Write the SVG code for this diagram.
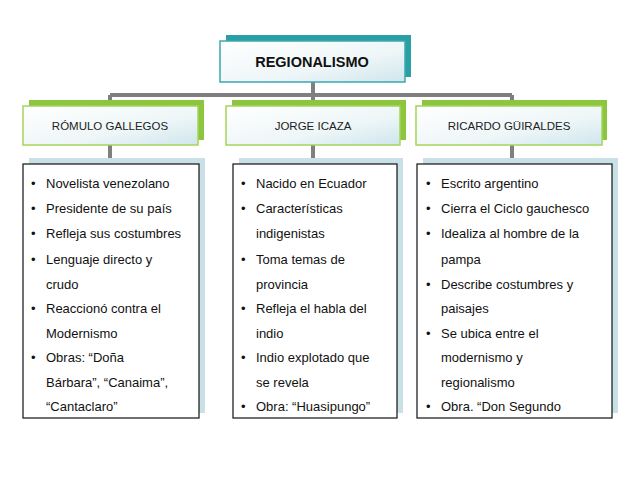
<svg xmlns="http://www.w3.org/2000/svg" width="638" height="479" viewBox="0 0 638 479">
<defs>
<linearGradient id="g" x1="0" y1="0" x2="1" y2="1"><stop offset="0" stop-color="#ffffff"/><stop offset="0.6" stop-color="#eef6f8"/><stop offset="1" stop-color="#cfe6ec"/></linearGradient>
</defs>
<style>
.t{font-family:"Liberation Sans",Arial,sans-serif;font-size:13px;fill:#111}
.h{font-family:"Liberation Sans",Arial,sans-serif;font-size:11.5px;fill:#222;text-anchor:middle}
.c{fill:none;stroke:#7f7f7f;stroke-width:4}
</style>
<rect width="638" height="479" fill="#fff"/>
<g id="connectors">
<path class="c" d="M313 82V95M110 95H512M110 95V102M313 95V102M512 95V102M110 145V164M313 145V164M512 145V164"/>
</g>
<g id="regionalismo">
<rect x="226" y="35" width="185" height="42" fill="#2aa0a6"/>
<rect x="220" y="41" width="185" height="41" fill="url(#g)" stroke="#3aa8ae" stroke-width="1.5"/>
<text x="312" y="67" text-anchor="middle" style="font-family:'Liberation Sans',Arial,sans-serif;font-size:14.5px;font-weight:bold;fill:#111">REGIONALISMO</text>
</g>
<g id="romulo">
<rect x="29" y="100" width="175" height="40" fill="#8cc63f"/>
<rect x="23" y="106" width="175" height="39" fill="url(#g)" stroke="#a6d45a" stroke-width="1.5"/>
<text class="h" x="110" y="130">RÓMULO GALLEGOS</text>
</g>
<g id="jorge">
<rect x="232" y="100" width="174" height="40" fill="#8cc63f"/>
<rect x="226" y="106" width="174" height="39" fill="url(#g)" stroke="#a6d45a" stroke-width="1.5"/>
<text class="h" x="313" y="130">JORGE ICAZA</text>
</g>
<g id="ricardo">
<rect x="422" y="100" width="185" height="40" fill="#8cc63f"/>
<rect x="416" y="106" width="186" height="39" fill="url(#g)" stroke="#a6d45a" stroke-width="1.5"/>
<text class="h" x="509" y="130">RICARDO GÜIRALDES</text>
</g>
<g id="romulo-list">
<rect x="29" y="158" width="176" height="255" fill="#c9e0e6"/>
<rect x="23" y="164" width="176" height="254" fill="#fff" stroke="#111" stroke-width="1.2"/>
<g class="t">
<text x="31" y="188">•<tspan x="46">Novelista venezolano</tspan></text>
<text x="31" y="213">•<tspan x="46">Presidente de su país</tspan></text>
<text x="31" y="238">•<tspan x="46">Refleja sus costumbres</tspan></text>
<text x="31" y="264">•<tspan x="46">Lenguaje directo y</tspan></text>
<text x="46" y="289">crudo</text>
<text x="31" y="313">•<tspan x="46">Reaccionó contra el</tspan></text>
<text x="46" y="338">Modernismo</text>
<text x="31" y="362">•<tspan x="46">Obras: “Doña</tspan></text>
<text x="46" y="387">Bárbara”, “Canaima”,</text>
<text x="46" y="411">“Cantaclaro”</text>
</g>
</g>
<g id="jorge-list">
<rect x="239" y="158" width="164" height="255" fill="#c9e0e6"/>
<rect x="233" y="164" width="164" height="254" fill="#fff" stroke="#111" stroke-width="1.2"/>
<g class="t">
<text x="241" y="188">•<tspan x="256">Nacido en Ecuador</tspan></text>
<text x="241" y="213">•<tspan x="256">Características</tspan></text>
<text x="256" y="238">indigenistas</text>
<text x="241" y="264">•<tspan x="256">Toma temas de</tspan></text>
<text x="256" y="289">provincia</text>
<text x="241" y="313">•<tspan x="256">Refleja el habla del</tspan></text>
<text x="256" y="338">indio</text>
<text x="241" y="362">•<tspan x="256">Indio explotado que</tspan></text>
<text x="256" y="387">se revela</text>
<text x="241" y="411">•<tspan x="256">Obra: “Huasipungo”</tspan></text>
</g>
</g>
<g id="ricardo-list">
<rect x="423" y="158" width="195" height="255" fill="#c9e0e6"/>
<rect x="417" y="164" width="195" height="254" fill="#fff" stroke="#111" stroke-width="1.2"/>
<g class="t">
<text x="426" y="188">•<tspan x="441">Escrito argentino</tspan></text>
<text x="426" y="213">•<tspan x="441">Cierra el Ciclo gauchesco</tspan></text>
<text x="426" y="238">•<tspan x="441">Idealiza al hombre de la</tspan></text>
<text x="441" y="264">pampa</text>
<text x="426" y="289">•<tspan x="441">Describe costumbres y</tspan></text>
<text x="441" y="313">paisajes</text>
<text x="426" y="338">•<tspan x="441">Se ubica entre el</tspan></text>
<text x="441" y="362">modernismo y</text>
<text x="441" y="387">regionalismo</text>
<text x="426" y="411">•<tspan x="441">Obra. “Don Segundo</tspan></text>
</g>
</g>
</svg>
